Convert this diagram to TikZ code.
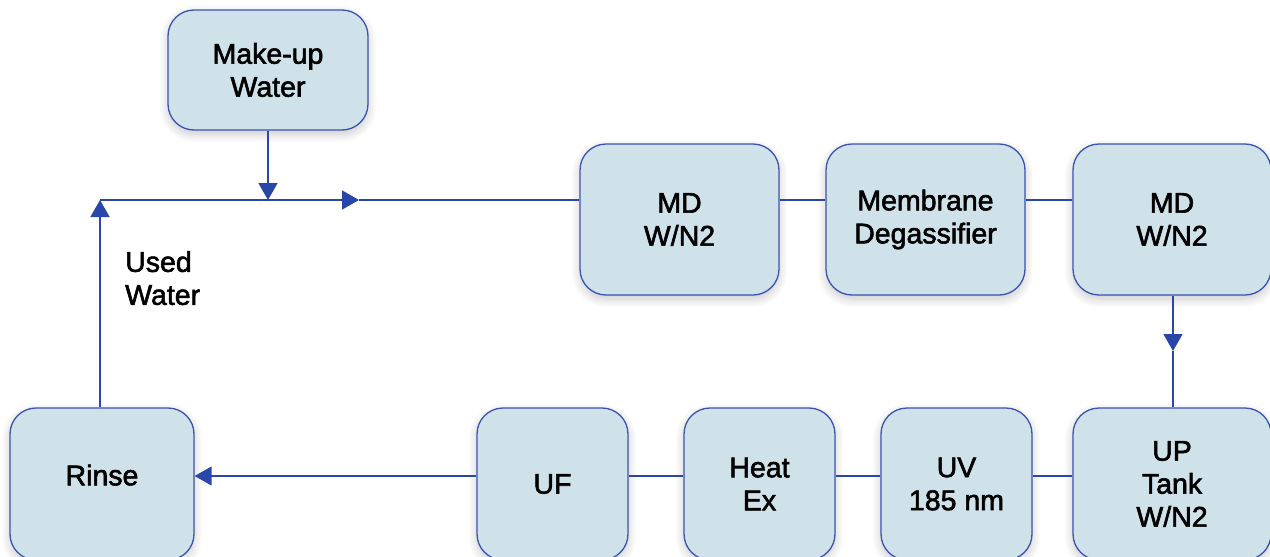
\documentclass[tikz,border=0pt]{standalone}
\usepackage{fontspec}
\setmainfont{Liberation Sans}
\newfontfamily\labfont{Liberation Sans}[FakeBold=2]
\usetikzlibrary{arrows.meta,shadows.blur}
\definecolor{boxfill}{HTML}{CFE2E9}
\definecolor{boxline}{HTML}{3A52B2}
\definecolor{flow}{HTML}{2A46A8}
\tikzset{
  unit/.style={draw=boxline, line width=1.3pt, fill=boxfill, rounded corners=26pt,
    align=center, font=\labfont\fontsize{28.5}{33}\selectfont, text=black,
    blur shadow={shadow xshift=0pt, shadow yshift=-4pt, shadow blur radius=9pt, shadow blur steps=10, shadow opacity=22}},
  pipe/.style={draw=flow, line width=1.6pt},
  arr/.style={pipe, -{Triangle[length=17pt,width=19pt]}},
  lbl/.style={align=left, font=\labfont\fontsize{28.5}{33}\selectfont, anchor=north west, inner sep=0pt}
}
\begin{document}
\begin{tikzpicture}[x=1pt,y=-1pt]
\useasboundingbox (0,0) rectangle (1270,557);
% boxes
\node[unit, minimum width=200pt, minimum height=120pt] (mk) at (268,70) {Make-up\\Water};
\node[unit, minimum width=199pt, minimum height=151pt] (md1) at (679.5,219.5) {MD\\W/N2};
\node[unit, minimum width=199pt, minimum height=151pt] (mem) at (925.5,219.5) {Membrane\\Degassifier};
\node[unit, minimum width=198pt, minimum height=151pt] (md2) at (1172,219.5) {MD\\W/N2};
\node[unit, minimum width=184pt, minimum height=152pt] (rin) at (102,484) {\raisebox{18pt}{Rinse}};
\node[unit, minimum width=151pt, minimum height=152pt] (uf) at (552.5,484) {UF};
\node[unit, minimum width=151pt, minimum height=152pt] (hx) at (759.5,484) {Heat\\Ex};
\node[unit, minimum width=151pt, minimum height=152pt] (uv) at (956.5,484) {UV\\185 nm};
\node[unit, minimum width=198pt, minimum height=152pt] (upt) at (1172,484) {UP\\Tank\\W/N2};
% coordinates
\coordinate (ty) at (0,200);
\coordinate (by) at (0,476);
\coordinate (jl) at (100,200);
\coordinate (jm) at (268,200);
\coordinate (ja) at (359,200);
\coordinate (dn) at (1173,351);
% top line
\draw[arr] (rin.north -| jl) -- (jl);
\draw[arr] (jl) -- (ja);
\draw[pipe] (ja) -- (md1.west |- ty);
\draw[arr] (mk.south) -- (jm);
\draw[pipe] (md1.east |- ty) -- (mem.west |- ty);
\draw[pipe] (mem.east |- ty) -- (md2.west |- ty);
\draw[arr] (md2.south -| dn) -- (dn);
\draw[pipe] (dn) -- (upt.north -| dn);
% bottom line
\draw[pipe] (upt.west |- by) -- (uv.east |- by);
\draw[pipe] (uv.west |- by) -- (hx.east |- by);
\draw[pipe] (hx.west |- by) -- (uf.east |- by);
\draw[arr] (uf.west |- by) -- (rin.east |- by);
% label
\node[lbl] (used) at (125,251) {Used\\Water};
\end{tikzpicture}
\end{document}
